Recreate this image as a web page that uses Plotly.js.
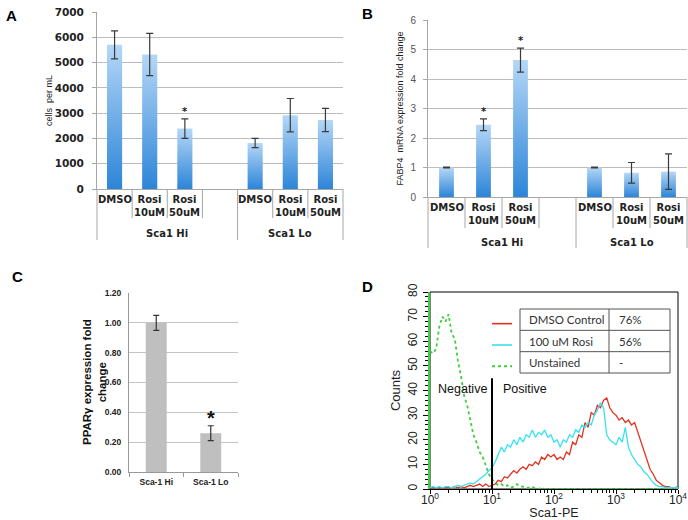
<!DOCTYPE html>
<html><head><meta charset="utf-8">
<script src="https://cdn.plot.ly/plotly-3.0.1.min.js"></script>
<style>html,body{margin:0;padding:0;background:#fff}#chart{width:688px;height:520px}</style>
</head><body><div id="chart"></div>
<script>
// ---------- Panel A: cells per mL ----------
const aGroups = ["Sca1 Hi", "Sca1 Hi", "Sca1 Hi", "Sca1 Lo", "Sca1 Lo", "Sca1 Lo"];
const aTreatments = ["DMSO", "Rosi<br>10uM", "Rosi<br>50uM", "DMSO", "Rosi<br>10uM", "Rosi<br>50uM"];
const aCellsPerMl = [5700, 5320, 2390, 1820, 2920, 2730];
const aCellsErr = [555, 835, 385, 185, 660, 460];
const aSignificant = [false, false, true, false, false, false];

// ---------- Panel B: FABP4 fold change ----------
const bGroups = ["Sca1 Hi", "Sca1 Hi", "Sca1 Hi", "Sca1 Lo", "Sca1 Lo", "Sca1 Lo"];
const bTreatments = ["DMSO", "Rosi<br>10uM", "Rosi<br>50uM", "DMSO", "Rosi<br>10uM", "Rosi<br>50uM"];
const bFabp4Fold = [1.0, 2.45, 4.64, 1.0, 0.82, 0.86];
const bFabp4Err = [0.01, 0.2, 0.41, 0.01, 0.35, 0.6];
const bSignificant = [false, true, true, false, false, false];

// ---------- Panel C: PPARg fold change ----------
const cGroups = ["Sca-1 Hi", "Sca-1 Lo"];
const cPpargFold = [1.00, 0.26];
const cPpargErr = [0.05, 0.05];
const cSignificant = [false, true];

// ---------- Panel D: flow histogram ----------
const dSeriesNames = ["DMSO Control", "100 uM Rosi", "Unstained"];
const dPercentPositive = ["76%", "56%", "-"];
const dTickVals = [1, 10, 100, 1000, 10000];
const dTickLabels = ["10<sup>0</sup>", "10<sup>1</sup>", "10<sup>2</sup>", "10<sup>3</sup>", "10<sup>4</sup>"];
const dChannel = [
  1, 1.122, 1.259, 1.413, 1.585, 1.778, 1.995, 2.239, 2.512, 2.818,
  3.162, 3.548, 3.981, 4.467, 5.012, 5.623, 6.310, 7.079, 7.943, 8.913,
  10, 11.22, 12.59, 14.13, 15.85, 17.78, 19.95, 22.39, 25.12, 28.18,
  31.62, 35.48, 39.81, 44.67, 50.12, 56.23, 63.10, 70.79, 79.43, 89.13,
  100, 112.2, 125.9, 141.3, 158.5, 177.8, 199.5, 223.9, 251.2, 281.8,
  316.2, 354.8, 398.1, 446.7, 501.2, 562.3, 631.0, 707.9, 794.3, 891.3,
  1000, 1122, 1259, 1413, 1585, 1778, 1995, 2239, 2512, 2818,
  3162, 3548, 3981, 4467, 5012, 5623, 6310, 7079, 7943, 8913,
  10000];
const dDmsoCounts = [
  0.5, 0.5, 0.5, 0.5, 0.5, 0.5, 0.5, 0.5, 1, 0.5,
  1, 0.5, 1, 1.5, 1, 1.5, 2, 1, 2, 1,
  1.5, 2, 3.5, 3, 5, 4.5, 6, 7.5, 6.5, 8,
  9, 8, 10, 9.5, 11, 10, 13, 12, 14, 13,
  14, 12, 13, 12, 15, 14, 19, 18, 22, 21,
  27, 25, 31, 30, 34, 33, 36, 37, 33, 31,
  30, 28, 29, 27, 28, 26, 27, 23, 19, 15,
  11, 8, 6, 3.5, 2.5, 1.5, 1, 1, 0.5, 0.5,
  1];
const dRosiCounts = [
  0.5, 1, 0.5, 1, 0.5, 1, 1, 0.5, 1, 1.5,
  1, 1.5, 2, 2.5, 2, 3, 4, 5, 6, 7.5,
  8.5, 11, 14, 17, 15, 18, 17, 20, 18, 21,
  19, 22, 21, 24, 21, 23, 22, 24, 21, 22,
  19, 20, 17, 20, 19, 22, 21, 24, 23, 26,
  25, 27, 26, 30, 32, 35, 33, 22, 20, 19,
  18, 21, 19, 25, 17, 14, 12, 10, 9, 7,
  6, 4, 2.5, 1.5, 1, 1, 0.5, 0.5, 0.5, 0.5,
  0.5];
const dUnstainedCounts = [
  56, 55, 57, 66, 70, 68, 71, 63, 61, 52,
  46, 38, 34, 28, 22, 19, 15, 13, 9, 6,
  4, 2.5, 1.5, 2, 1, 1.5, 0.5, 1, 2, 1,
  1, 0.5, 0.5, 1, 0, 0, 0.5, 0, 0, 0,
  0, 0, 0, 0, 0, 0, 0, 0, 0, 0,
  0, 0, 0, 0, 0, 0, 0, 0, 0, 0,
  0, 0, 0, 0, 0, 0, 0, 0, 0, 0,
  0, 0, 0, 0, 0, 0, 0, 0, 0, 0,
  0];

// ---------- helpers ----------
const W = 688, H = 520;
const px = v => v / W, py = v => 1 - v / H;
const sepColor = '#a6a6a6';
const labFont = {family: 'DejaVu Sans', size: 10, color: '#222', weight: 'bold'};

function barPanel(n, groups, labels, values, errs, sig, hw, labelY, shortY, longY, groupY, sigShift) {
  const xa = n === 1 ? 'x' : 'x' + n, ya = n === 1 ? 'y' : 'y' + n;
  const order = [...new Set(groups)];
  const slots = groups.map((g, i) => i + order.indexOf(g));
  const r0 = -0.5, r1 = groups.length + order.length - 1.5;
  const toDom = x => (x - r0) / (r1 - r0);
  const traces = [], shapes = [], annotations = [];
  values.forEach((v, i) => {
    const x0 = slots[i] - hw, x1 = slots[i] + hw;
    traces.push({type: 'scatter', xaxis: xa, yaxis: ya, x: [x0, x0, x1, x1, x0], y: [0, v, v, 0, 0],
      mode: 'lines', line: {width: 0, color: 'rgba(0,0,0,0)'}, fill: 'toself',
      fillcolor: '#6aaae8',
      fillgradient: {type: 'vertical', colorscale: [[0, '#2c85d8'], [1, '#b5d7f7']]},
      hoverinfo: 'skip'});
  });
  traces.push({type: 'scatter', xaxis: xa, yaxis: ya, x: slots, y: values, mode: 'markers',
    marker: {size: 1, color: 'rgba(0,0,0,0)'},
    error_y: {type: 'data', array: errs, color: '#3a3a3a', thickness: 1.2, width: 3.5}, hoverinfo: 'skip'});
  const line = (x, len) => ({type: 'line', xref: xa + ' domain', yref: ya + ' domain', x0: toDom(x), x1: toDom(x),
    y0: 0, y1: len, line: {color: sepColor, width: 1}});
  labels.forEach((t, i) => annotations.push({xref: xa, yref: ya + ' domain', x: slots[i], y: labelY, text: t,
    showarrow: false, xanchor: 'center', yanchor: 'top', align: 'center', borderpad: 0, font: labFont}));
  order.forEach((g, gi) => {
    const idx = groups.map((gg, i) => gg === g ? i : -1).filter(i => i >= 0);
    const first = slots[idx[0]], last = slots[idx[idx.length - 1]];
    const start = first - 0.5, end = gi < order.length - 1 ? last + 1.5 : last + 0.5;
    shapes.push(line(start, longY));
    if (gi === order.length - 1) shapes.push(line(end, longY));
    idx.slice(1).forEach(i => shapes.push(line(slots[i] - 0.5, shortY)));
    if (gi < order.length - 1) shapes.push(line(last + 0.5, shortY));
    annotations.push({xref: xa, yref: ya + ' domain', x: (start + end) / 2, y: groupY, text: g,
      showarrow: false, font: labFont, yanchor: 'middle', xanchor: 'center'});
  });
  values.forEach((v, i) => {
    if (sig[i]) annotations.push({xref: xa, yref: ya, x: slots[i], y: v + errs[i], text: '*', showarrow: false,
      yanchor: 'bottom', yshift: sigShift, font: {family: 'DejaVu Sans', size: 10, color: '#222', weight: 'bold'}});
  });
  return {traces, shapes, annotations, slots, range: [r0, r1]};
}

const pA = barPanel(1, aGroups, aTreatments, aCellsPerMl, aCellsErr, aSignificant, 0.215, -0.025, -0.164, -0.288, -0.252, 0);
const pB = barPanel(2, bGroups, bTreatments, bFabp4Fold, bFabp4Err, bSignificant, 0.2, -0.025, -0.175, -0.288, -0.256, 0);

// Panel C traces
const tracesC = [{type: 'bar', xaxis: 'x3', yaxis: 'y3', x: cGroups, y: cPpargFold, width: 0.385,
  marker: {color: '#bfbfbf'},
  error_y: {type: 'data', array: cPpargErr, color: '#333', thickness: 1.2, width: 3}, hoverinfo: 'skip'}];

// Panel D traces
const dColors = ['#e3321f', '#36e3ef', '#3fd03f'];
const tracesD = [
  {type: 'scatter', mode: 'lines', xaxis: 'x4', yaxis: 'y4', x: dChannel, y: dUnstainedCounts,
   line: {color: dColors[2], width: 1.8, dash: 'dot'}, name: dSeriesNames[2], hoverinfo: 'skip'},
  {type: 'scatter', mode: 'lines', xaxis: 'x4', yaxis: 'y4', x: dChannel, y: dDmsoCounts,
   line: {color: dColors[0], width: 1.3}, name: dSeriesNames[0], hoverinfo: 'skip'},
  {type: 'scatter', mode: 'lines', xaxis: 'x4', yaxis: 'y4', x: dChannel, y: dRosiCounts,
   line: {color: dColors[1], width: 1.3}, name: dSeriesNames[1], hoverinfo: 'skip'}
];

const minorX = [];
dTickVals.slice(0, -1).forEach(d => { for (let k = 2; k <= 9; k++) minorX.push(k * d); });

const shapes = [...pA.shapes, ...pB.shapes];
const annotations = [...pA.annotations, ...pB.annotations];

// C asterisk and y title
cPpargFold.forEach((v, i) => {
  if (cSignificant[i]) annotations.push({xref: 'x3', yref: 'y3', x: cGroups[i], y: v + cPpargErr[i], text: '*',
    showarrow: false, yanchor: 'bottom', yshift: -5, font: {family: 'Liberation Sans', size: 20, color: '#111', weight: 'bold'}});
});
annotations.push({xref: 'paper', yref: 'paper', x: px(94), y: py(382), text: 'PPARγ expression fold<br>change',
  textangle: -90, showarrow: false, xanchor: 'center', yanchor: 'middle', align: 'center',
  font: {family: 'Liberation Sans', size: 11.5, color: '#111', weight: 'bold'}});

// Panel letters
[['A', 11.5, 15], ['B', 368, 13], ['C', 17.5, 276], ['D', 368, 286]].forEach(([t, x, y]) => {
  annotations.push({xref: 'paper', yref: 'paper', x: px(x), y: py(y), text: t, showarrow: false,
    xanchor: 'center', yanchor: 'middle', font: {family: 'Liberation Sans', size: 15, color: '#000', weight: 'bold'}});
});

// Panel D: frame, gate, legend table
shapes.push({type: 'rect', xref: 'x4 domain', yref: 'y4 domain', x0: 0, x1: 1, y0: 0, y1: 1,
  line: {color: '#000', width: 1}, layer: 'below'});
shapes.push({type: 'line', xref: 'x4 domain', yref: 'y4', x0: 0.25, x1: 0.25, y0: 0, y1: 45,
  line: {color: '#000', width: 2}});
annotations.push({xref: 'x4 domain', yref: 'y4', x: 0.025, y: 40.5, text: 'Negative', showarrow: false,
  xanchor: 'left', yanchor: 'middle', font: {family: 'Liberation Sans', size: 12.5, color: '#111'}});
annotations.push({xref: 'x4 domain', yref: 'y4', x: 0.285, y: 40.5, text: 'Positive', showarrow: false,
  xanchor: 'left', yanchor: 'middle', font: {family: 'Liberation Sans', size: 12.5, color: '#111'}});

const tbl = {x0: 520, x1: 670, y0: 309, y1: 373, col: 609};
shapes.push({type: 'rect', xref: 'paper', yref: 'paper', x0: px(tbl.x0), x1: px(tbl.x1), y0: py(tbl.y1), y1: py(tbl.y0),
  line: {color: '#555', width: 1}, fillcolor: 'rgba(255,255,255,0)'});
shapes.push({type: 'line', xref: 'paper', yref: 'paper', x0: px(tbl.col), x1: px(tbl.col), y0: py(tbl.y1), y1: py(tbl.y0),
  line: {color: '#555', width: 1}});
const rowH = (tbl.y1 - tbl.y0) / 3;
[1, 2].forEach(r => shapes.push({type: 'line', xref: 'paper', yref: 'paper', x0: px(tbl.x0), x1: px(tbl.x1),
  y0: py(tbl.y0 + r * rowH), y1: py(tbl.y0 + r * rowH), line: {color: '#555', width: 1}}));
dSeriesNames.forEach((name, r) => {
  const yc = tbl.y0 + (r + 0.5) * rowH;
  shapes.push({type: 'line', xref: 'paper', yref: 'paper', x0: px(492), x1: px(512), y0: py(yc + 4), y1: py(yc + 4),
    line: {color: dColors[r], width: r === 2 ? 2 : 1.6, dash: r === 2 ? 'dot' : 'solid'}});
  annotations.push({xref: 'paper', yref: 'paper', x: px(527), y: py(yc), text: name, showarrow: false,
    xanchor: 'left', yanchor: 'middle', font: {family: 'Lato', size: 11.5, color: '#333'}});
  annotations.push({xref: 'paper', yref: 'paper', x: px(617), y: py(yc), text: dPercentPositive[r], showarrow: false,
    xanchor: 'left', yanchor: 'middle', font: {family: 'Lato', size: 11.5, color: '#333'}});
});

const barX = (p, dom) => ({domain: dom, range: p.range, showticklabels: false, showgrid: false, zeroline: false,
  showline: true, linecolor: sepColor, ticks: '', fixedrange: true});

const layout = {
  width: W, height: H, margin: {l: 0, r: 0, t: 0, b: 0}, paper_bgcolor: '#fff', plot_bgcolor: '#fff',
  showlegend: false, font: {family: 'Liberation Sans', color: '#222'},
  xaxis: Object.assign(barX(pA, [px(97), px(343)]), {anchor: 'y'}),
  yaxis: {domain: [py(189), py(12)], anchor: 'x', range: [0, 7000], dtick: 1000, showgrid: true, gridcolor: '#bcbcbc',
    zeroline: false, showline: true, linecolor: sepColor, ticks: 'outside', ticklen: 4, tickcolor: sepColor,
    tickfont: {family: 'DejaVu Sans', size: 10.5, color: '#222', weight: 'bold'}, ticklabelstandoff: 6,
    title: {text: 'cells  per mL', font: {family: 'Liberation Sans', size: 9, color: '#222'}, standoff: 0}},
  xaxis2: Object.assign(barX(pB, [px(428), px(687)]), {anchor: 'y2'}),
  yaxis2: {domain: [py(197), py(20)], anchor: 'x2', range: [0, 6], dtick: 1, showgrid: true, gridcolor: '#bcbcbc',
    zeroline: false, showline: true, linecolor: sepColor, ticks: 'outside', ticklen: 4, tickcolor: sepColor,
    tickfont: {family: 'Liberation Sans', size: 10, color: '#555'}, ticklabelstandoff: 5,
    title: {text: 'FABP4  mRNA expression fold change', font: {family: 'Liberation Sans', size: 9, color: '#222'}, standoff: 5}},
  xaxis3: {domain: [px(129), px(238)], anchor: 'y3', type: 'category', showgrid: false, zeroline: false,
    showline: true, linecolor: '#999', ticks: 'outside', tickson: 'boundaries', ticklen: 4, tickcolor: '#999',
    tickfont: {family: 'Liberation Sans', size: 8.5, color: '#222', weight: 'bold'}, ticklabelstandoff: 2},
  yaxis3: {domain: [py(472), py(293)], anchor: 'x3', range: [0, 1.2], dtick: 0.2, tickformat: '.2f', showgrid: true,
    gridcolor: '#c4c4c4', zeroline: false, showline: true, linecolor: '#999', ticks: '',
    tickfont: {family: 'Liberation Sans', size: 8.5, color: '#222', weight: 'bold'}, ticklabelstandoff: 5},
  xaxis4: {domain: [px(430), px(678)], anchor: 'y4', type: 'log', range: [0, 4], tickmode: 'array', tickvals: dTickVals,
    ticktext: dTickLabels, showgrid: false, zeroline: false, showline: true, linecolor: '#000', ticks: 'outside',
    ticklen: 4, tickcolor: '#000', minor: {tickmode: 'array', tickvals: minorX, ticks: 'outside', ticklen: 3, tickcolor: '#000', showgrid: false},
    tickfont: {family: 'Liberation Sans', size: 12, color: '#222'}, ticklabelstandoff: -4,
    title: {text: 'Sca1-PE', font: {family: 'Liberation Sans', size: 12.5, color: '#222'}, standoff: 4}},
  yaxis4: {domain: [py(489), py(292)], anchor: 'x4', range: [0, 80], dtick: 10, tickangle: -90, showgrid: false,
    zeroline: false, showline: true, linecolor: '#3fd03f', linewidth: 2, ticks: 'outside', ticklen: 5, tickcolor: '#000',
    minor: {dtick: 2, ticks: 'outside', ticklen: 3, tickcolor: '#000', showgrid: false},
    tickfont: {family: 'Liberation Sans', size: 12, color: '#222'}, ticklabelstandoff: 1,
    title: {text: 'Counts', font: {family: 'Liberation Sans', size: 13, color: '#222'}, standoff: 3}},
  shapes: shapes,
  annotations: annotations
};

Plotly.newPlot('chart', [...pA.traces, ...pB.traces, ...tracesC, ...tracesD], layout, {staticPlot: true});
</script>
</body></html>
